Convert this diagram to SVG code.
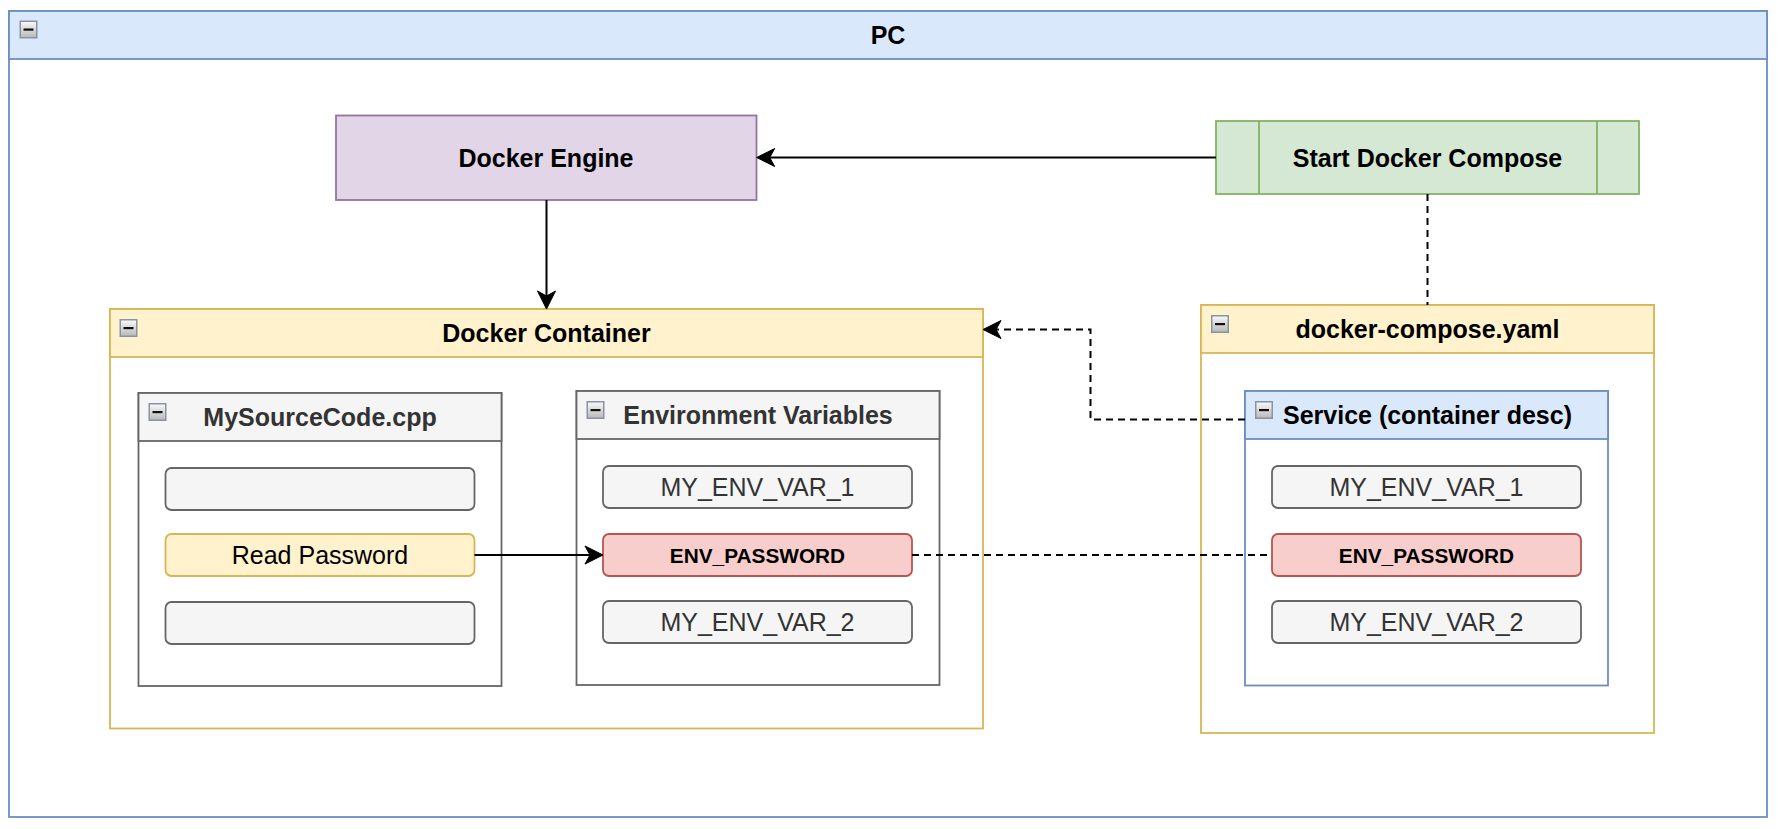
<svg xmlns="http://www.w3.org/2000/svg" width="1779" height="829" viewBox="0 0 1779 829">
<style>
text{font-family:"Liberation Sans",Arial,Helvetica,sans-serif;text-anchor:middle}
.t{font-size:25px;font-weight:bold;fill:#000}
.tg{font-size:25px;font-weight:bold;fill:#333333}
.i{font-size:25px;fill:#333333}
.ib{font-size:20.8px;font-weight:bold;fill:#000}
.blue{fill:#dae8fc;stroke:#6c8ebf;stroke-width:1.8}
.yel{fill:#fff2cc;stroke:#d6b656;stroke-width:1.8}
.gray{fill:#f5f5f5;stroke:#666666;stroke-width:1.8}
.red{fill:#f8cecc;stroke:#b85450;stroke-width:1.8}
.body{fill:#ffffff}
.edge{fill:none;stroke:#000;stroke-width:2}
.dash{stroke-dasharray:7 5}
</style>
<defs>
<linearGradient id="ig" x1="0" y1="0" x2="0" y2="1">
<stop offset="0" stop-color="#fafafa"/>
<stop offset="1" stop-color="#b8b8b8"/>
</linearGradient>
<symbol id="col" viewBox="0 0 18 18" overflow="visible">
<rect x="0.75" y="0.75" width="16.5" height="16.5" fill="url(#ig)" stroke="#8a93a4" stroke-width="1.5"/>
<rect x="4" y="8" width="10" height="2.2" fill="#111"/>
</symbol>
<marker id="arr" viewBox="-20 -10 21 20" refX="-3" refY="0" markerWidth="21" markerHeight="20" markerUnits="userSpaceOnUse" orient="auto">
<path d="M0,0 L-18,-9 L-13,0 L-18,9 Z" fill="#000" stroke="#000" stroke-width="1" stroke-linejoin="miter"/>
</marker>
</defs>
<rect x="0" y="0" width="1779" height="829" fill="#ffffff"/>

<g id="pc">
<rect x="9" y="11" width="1758" height="806" class="body" stroke="#6c8ebf" stroke-width="1.8"/>
<rect x="9" y="11" width="1758" height="48" class="blue"/>
<use href="#col" x="19.5" y="20.5" width="18" height="18"/>
<text class="t" x="888" y="44">PC</text>
</g>

<g id="docker-engine">
<rect x="336" y="115.5" width="420.5" height="84.5" fill="#e1d5e7" stroke="#9673a6" stroke-width="1.8"/>
<text class="t" x="546" y="166.5">Docker Engine</text>
</g>

<g id="start-docker-compose">
<rect x="1216" y="121" width="423" height="73" fill="#d5e8d4" stroke="#82b366" stroke-width="1.8"/>
<line x1="1259" y1="121" x2="1259" y2="194" stroke="#82b366" stroke-width="1.8"/>
<line x1="1597" y1="121" x2="1597" y2="194" stroke="#82b366" stroke-width="1.8"/>
<text class="t" x="1427.5" y="166.5">Start Docker Compose</text>
</g>

<g id="docker-container">
<rect x="110" y="309" width="873" height="419.5" class="body" stroke="#d6b656" stroke-width="1.8"/>
<rect x="110" y="309" width="873" height="48" class="yel"/>
<use href="#col" x="119.5" y="319" width="18" height="18"/>
<text class="t" x="546.5" y="342">Docker Container</text>
</g>

<g id="mysourcecode">
<rect x="138.5" y="393" width="363" height="293" class="body" stroke="#666666" stroke-width="1.8"/>
<rect x="138.5" y="393" width="363" height="48" class="gray"/>
<use href="#col" x="148.5" y="403" width="18" height="18"/>
<text class="tg" x="320" y="426">MySourceCode.cpp</text>
<rect x="165.5" y="468" width="309" height="42" rx="6" class="gray"/>
<rect x="165.5" y="534" width="309" height="42" rx="6" class="yel"/>
<text x="320" y="564" style="font-size:25px;fill:#000">Read Password</text>
<rect x="165.5" y="602" width="309" height="42" rx="6" class="gray"/>
</g>

<g id="environment-variables">
<rect x="576.5" y="391" width="363" height="294" class="body" stroke="#666666" stroke-width="1.8"/>
<rect x="576.5" y="391" width="363" height="48" class="gray"/>
<use href="#col" x="586.5" y="401" width="18" height="18"/>
<text class="tg" x="758" y="424">Environment Variables</text>
<rect x="603" y="466" width="309" height="42" rx="6" class="gray"/>
<text class="i" x="757.5" y="496">MY_ENV_VAR_1</text>
<rect x="603" y="534" width="309" height="42" rx="6" class="red"/>
<text class="ib" x="757.5" y="562.5">ENV_PASSWORD</text>
<rect x="603" y="601" width="309" height="42" rx="6" class="gray"/>
<text class="i" x="757.5" y="631">MY_ENV_VAR_2</text>
</g>

<g id="docker-compose-yaml">
<rect x="1201" y="305" width="453" height="428" class="body" stroke="#d6b656" stroke-width="1.8"/>
<rect x="1201" y="305" width="453" height="48" class="yel"/>
<use href="#col" x="1211" y="315" width="18" height="18"/>
<text class="t" x="1427.5" y="338">docker-compose.yaml</text>
</g>

<g id="service">
<rect x="1245" y="391" width="363" height="294.5" class="body" stroke="#6c8ebf" stroke-width="1.8"/>
<rect x="1245" y="391" width="363" height="48" class="blue"/>
<use href="#col" x="1255" y="401" width="18" height="18"/>
<text class="t" x="1427.5" y="424">Service (container desc)</text>
<rect x="1272" y="466" width="309" height="42" rx="6" class="gray"/>
<text class="i" x="1426.5" y="496">MY_ENV_VAR_1</text>
<rect x="1272" y="534" width="309" height="42" rx="6" class="red"/>
<text class="ib" x="1426.5" y="562.5">ENV_PASSWORD</text>
<rect x="1272" y="601" width="309" height="42" rx="6" class="gray"/>
<text class="i" x="1426.5" y="631">MY_ENV_VAR_2</text>
</g>

<g id="connectors">
<path class="edge" d="M1216,157.5 L759.7,157.5" marker-end="url(#arr)"/>
<path class="edge" d="M546.5,200 L546.5,306" marker-end="url(#arr)"/>
<path class="edge dash" d="M1427.5,194 L1427.5,305"/>
<path class="edge dash" d="M1245,419.5 L1090.5,419.5 L1090.5,329.5 L986,329.5" marker-end="url(#arr)"/>
<path class="edge dash" d="M912,555 L1272,555"/>
<path class="edge" d="M474.5,555 L600,555" marker-end="url(#arr)"/>
</g>
</svg>
